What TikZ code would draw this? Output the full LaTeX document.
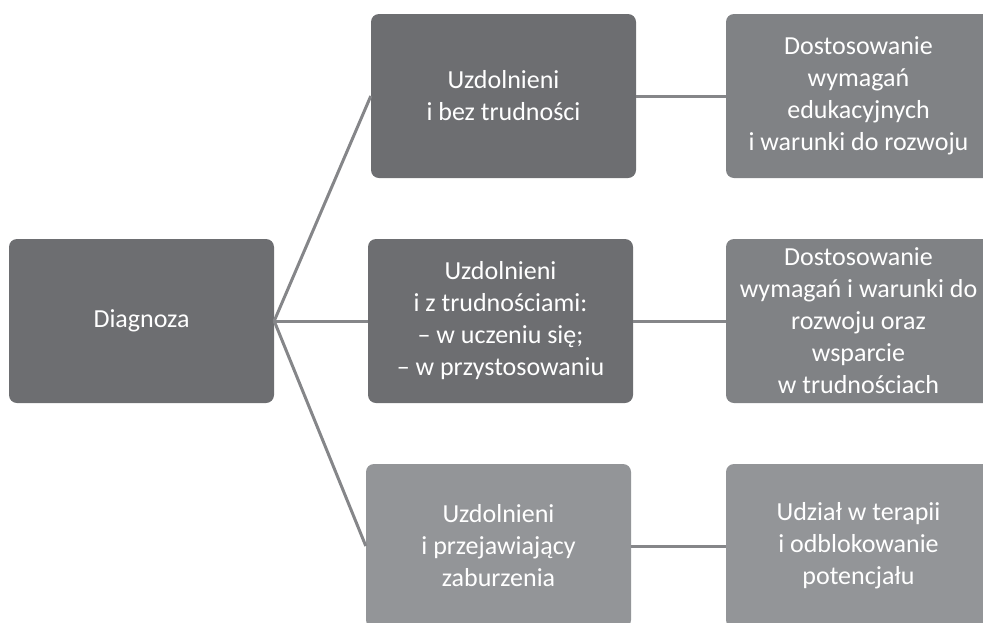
\documentclass[tikz,border=0pt]{standalone}
\usepackage{fontspec}
\setmainfont{Carlito}
\usetikzlibrary{positioning}

\definecolor{boxdark}{HTML}{6D6E71}
\definecolor{boxmid}{HTML}{808285}
\definecolor{boxlight}{HTML}{939598}
\definecolor{linegray}{HTML}{858689}

\tikzset{
  box/.style={rectangle, rounded corners=8pt, minimum width=265pt, minimum height=164pt,
    inner sep=0pt, align=center, text=white, font=\fontsize{26}{32}\selectfont},
  link/.style={draw=linegray, line width=3pt}
}

\begin{document}
\begin{tikzpicture}[x=1pt, y=-1pt]
\useasboundingbox (0, 0) rectangle (983, 622);
\clip (0, 0) rectangle (983, 622);

\node (diag) [box, fill=boxdark] at (141.5, 321) {Diagnoza};

\node (u1) [box, fill=boxdark] at (503.5, 96) {Uzdolnieni\\i bez trudności};
\node (u2) [box, fill=boxdark] at (500.5, 321) {Uzdolnieni\\i z trudnościami:\\– w uczeniu się;\\– w przystosowaniu};
\node (u3) [box, fill=boxlight] at (498.5, 546) {Uzdolnieni\\i przejawiający\\zaburzenia};

\node (w1) [box, fill=boxmid] at (858.5, 96) {Dostosowanie\\wymagań\\edukacyjnych\\i warunki do rozwoju};
\node (w2) [box, fill=boxmid] at (858.5, 321) {Dostosowanie\\wymagań i warunki do\\rozwoju oraz\\wsparcie\\w trudnościach};
\node (w3) [box, fill=boxlight] at (858.5, 546) {Udział w terapii\\i odblokowanie\\potencjału};

% branches
\draw [link] (diag.east) -- (u1.west);
\draw [link] (diag.east) -- (u2.west);
\draw [link] (diag.east) -- (u3.west);

\draw [link] (u1.east) -- (w1.west);
\draw [link] (u2.east) -- (w2.west);
\draw [link] (u3.east) -- (w3.west);
\end{tikzpicture}
\end{document}
